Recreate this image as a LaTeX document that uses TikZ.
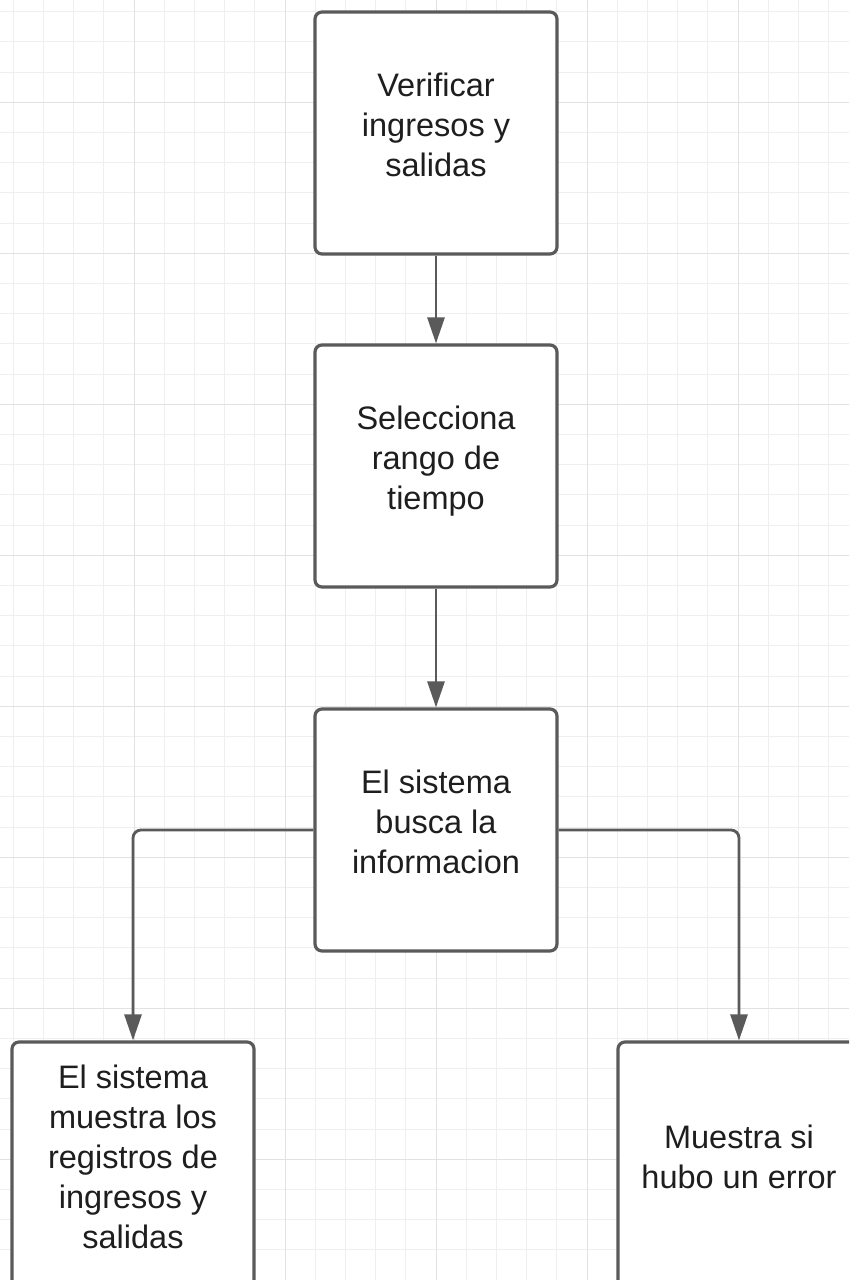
\documentclass[tikz,border=0pt]{standalone}
\usepackage{fontspec}
\setmainfont{Liberation Sans}
\usetikzlibrary{arrows.meta}
\definecolor{gridminor}{HTML}{EFEFEF}
\definecolor{gridmajor}{HTML}{E2E2E2}
\definecolor{edge}{HTML}{5A5A5A}
\definecolor{ink}{HTML}{1E1E1E}
% line strut: every text line is 40pt tall, baseline 17.5pt above its bottom
\newcommand\lnstrut{\rule[-17.5pt]{0pt}{40pt}}
\newcommand\boxfont{\fontsize{32.5}{40}\selectfont\lineskiplimit=-100pt\relax}
\tikzset{
  stepbox/.style={draw=edge, line width=3.2pt, rounded corners=7pt, fill=white,
    minimum width=242pt, minimum height=242pt, inner sep=0pt, align=center,
    text=ink, font=\boxfont},
  tallbox/.style={stepbox, minimum height=246pt},
  flow/.style={draw=edge, line width=2.8pt, rounded corners=8pt,
    -{Triangle[length=26pt,width=17pt]}},
}
\begin{document}
\begin{tikzpicture}[x=1pt,y=-1pt]
\useasboundingbox (0,0) rectangle (849,1280);
\clip (0,0) rectangle (849,1280);
\fill[white] (0,0) rectangle (849,1280);
% background grid
\foreach \i in {-4,...,24}{
  \draw[gridminor, line width=1pt] ({134+30.2*\i},0) -- ({134+30.2*\i},1280);}
\foreach \j in {-3,...,40}{
  \draw[gridminor, line width=1pt] (0,{102.3+30.2*\j}) -- (849,{102.3+30.2*\j});}
\foreach \i in {0,...,4}{
  \draw[gridmajor, line width=1pt] ({134+151*\i},0) -- ({134+151*\i},1280);}
\foreach \j in {0,...,7}{
  \draw[gridmajor, line width=1pt] (0,{102.3+151*\j}) -- (849,{102.3+151*\j});}
% process boxes
\node[stepbox] (verif) at (436,133) {\lnstrut Verificar\\\lnstrut ingresos y\\\lnstrut salidas};
\node[stepbox] (rango) at (436,466) {\lnstrut Selecciona\\\lnstrut rango de\\\lnstrut tiempo};
\node[stepbox] (busca) at (436,830) {\lnstrut El sistema\\\lnstrut busca la\\\lnstrut informacion};
\node[tallbox] (muestra) at (133,1165) {\lnstrut El sistema\\\lnstrut muestra los\\\lnstrut registros de\\\lnstrut ingresos y\\\lnstrut salidas};
\node[tallbox] (error) at (739,1165) {\lnstrut Muestra si\\\lnstrut hubo un error};
% connectors
\draw[flow] (verif.south) -- (rango.north);
\draw[flow] (rango.south) -- (busca.north);
\draw[flow] (busca.west) -| (muestra.north);
\draw[flow] (busca.east) -| (error.north);
\end{tikzpicture}
\end{document}
